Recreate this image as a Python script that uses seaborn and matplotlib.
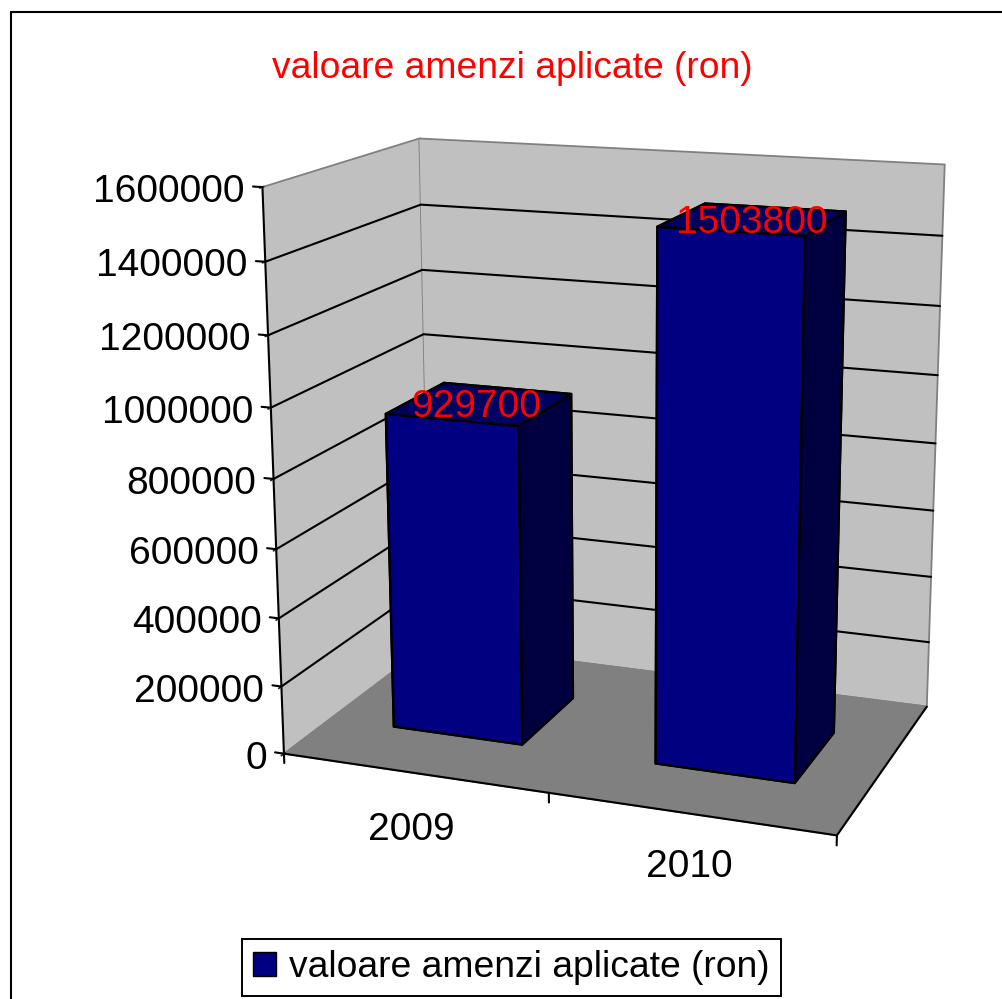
import numpy as np
import seaborn as sns
import matplotlib
matplotlib.use("Agg")
import matplotlib.pyplot as plt
from matplotlib.lines import Line2D
from matplotlib.patches import Patch

# data
years = ["2009", "2010"]
values = [929700, 1503800]
z_ticks = [0, 200000, 400000, 600000, 800000, 1000000, 1200000, 1400000, 1600000]
series_name = "valoare amenzi aplicate (ron)"
title_text = "valoare amenzi aplicate (ron)"

sns.set_theme(style="white", font="Liberation Sans")
plt.rcParams["font.family"] = ["Liberation Sans", "DejaVu Sans"]
plt.rcParams["text.color"] = "black"

W, H = 1002, 999
Z_MAX = z_ticks[-1]
FS = 28
FS_TXT = 26.8

fig = plt.figure(figsize=(W / 100, H / 100), dpi=100, facecolor="white")
ax = fig.add_axes([0, 0, 1, 1], projection="3d", computed_zorder=False)
ax.patch.set_alpha(0)
ax.apply_aspect()

# camera: the box corners (x, depth, z/zmax) -> where they sit in the picture
box = np.array([[0, 0, 0], [0, 0, 1], [0, 1, 1], [2, 1, 1], [2, 1, 0], [2, 0, 0], [0, 1, 0]], float)
pix = np.array([[283.3, 755], [263.3, 186.7], [418.3, 139], [945, 164.3],
                [926.7, 707.7], [836.7, 834.3], [431, 642]])
uv = ax.transData.inverted().transform(np.c_[pix[:, 0], H - pix[:, 1]])
rows = []
for (x, y, z), (u, v) in zip(box, uv):
    rows.append([x, y, z, 1, 0, 0, 0, 0, -u * x, -u * y, -u * z, -u])
    rows.append([0, 0, 0, 0, x, y, z, 1, -v * x, -v * y, -v * z, -v])
P = np.linalg.svd(np.array(rows))[2][-1].reshape(3, 4)
P = P / P[2, 3]
P[:, 2] = P[:, 2] / Z_MAX
M = np.vstack([P[0], P[1], [0, 0, 0, -1], P[2]])
ax.get_proj = lambda: M

ax.set_xlim(0, 2, view_margin=0)
ax.set_ylim(0, 1, view_margin=0)
ax.set_zlim(0, Z_MAX, view_margin=0)
ax.grid(False)

# walls and floor
ax.xaxis.set_pane_color("#C0C0C0")
ax.yaxis.set_pane_color("#C0C0C0")
ax.zaxis.set_pane_color("#808080")
for a in [ax.xaxis, ax.yaxis, ax.zaxis]:
    a.pane.set_edgecolor("#808080")
    a.pane.set_linewidth(1.3)
    a.line.set_color("black")
    a.line.set_linewidth(1.5)
    a.label.set_visible(False)
    a.offsetText.set_visible(False)

ax.set_xticks([])
ax.set_yticks([])
ax.set_zticks(z_ticks)
ax.set_zticklabels([str(t) for t in z_ticks], fontsize=FS, color="black", ha="right", va="center_baseline")
ax.zaxis.set_ticks_position("lower")
ax.zaxis.set_label_position("lower")
ax.tick_params(axis="z", pad=1.4)

# gridlines on both walls, ticks on the value axis
for t in z_ticks[1:-1]:
    ax.plot([0, 0, 2], [0, 1, 1], [t, t, t], color="black", lw=1.5, zorder=1)
for t in z_ticks:
    ax.plot([-0.035, 0], [0, 0], [t, t], color="black", lw=1.5, zorder=1)

# ticks on the category axis
for i in range(len(years) + 1):
    ax.plot([i, i], [0, 0], [0, -28000], color="black", lw=1.5, zorder=1)

# bars
faces = ["#000060", "#000060", "#000080", "#000080", "#000040", "#000040"]
label_x = [0.485, 0.497]
year_x = [-0.015, 0]
year_z = [-159000, -141000]
for i, v in enumerate(values):
    ax.bar3d(i + 0.25, 0.3, 0, 0.5, 0.4, v, color=faces, shade=False,
             edgecolor="black", linewidth=1.7, zorder=3)
    ax.text(i + label_x[i], 0.5, v, str(v), color="red", fontsize=FS, ha="center", va="center_baseline", zorder=5)
    ax.text(i + 0.5 + year_x[i], 0, year_z[i], years[i], color="black", fontsize=FS, ha="center", va="center_baseline", zorder=5)

fig.text(512 / W, 1 - 68 / H, title_text, color="red", fontsize=FS_TXT, ha="center", va="center")

# chart frame
fig.add_artist(Line2D([11 / W, 11 / W], [0, 1 - 12 / H], color="black", lw=1.5))
fig.add_artist(Line2D([11 / W, 1], [1 - 12 / H, 1 - 12 / H], color="black", lw=1.5))

leg = fig.legend(handles=[Patch(facecolor="#000080", edgecolor="black", label=series_name)],
                 loc="center", bbox_to_anchor=(511.5 / W, 1 - 967.5 / H), fontsize=FS_TXT,
                 fancybox=False, framealpha=1, edgecolor="black", handlelength=0.6, handleheight=0.6,
                 handletextpad=0.36, borderpad=0.3, borderaxespad=0, labelcolor="black")
leg.get_frame().set_linewidth(1.4)

fig.savefig("out.png", dpi=100)
